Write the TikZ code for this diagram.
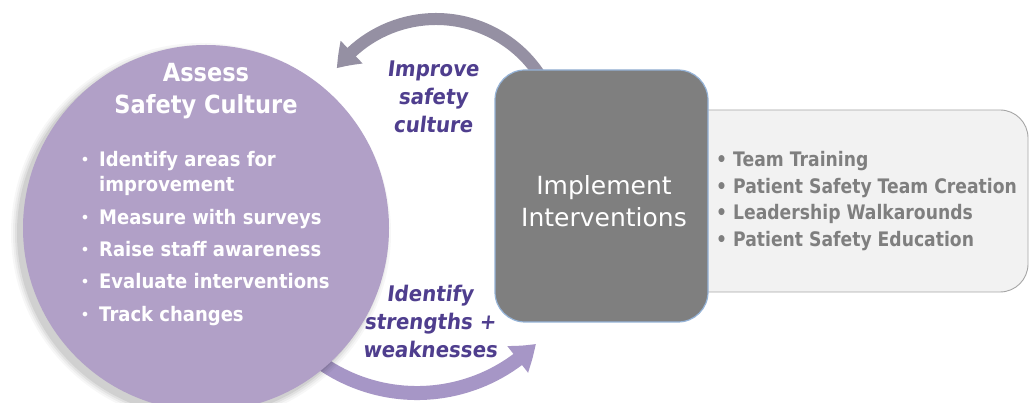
\documentclass[tikz,border=0pt]{standalone}
\usepackage{fontspec}
\setmainfont{DejaVu Sans}
\newfontfamily\semib{DejaVu Sans Bold}[FakeStretch=0.9]
\newfontfamily\listfont{DejaVu Sans Bold}[FakeStretch=0.86]
\newfontfamily\hand{DejaVu Sans Bold}[FakeSlant=0.12, FakeStretch=0.92]
\usetikzlibrary{arrows.meta,bending}
\definecolor{circfill}{HTML}{B1A0C7}
\definecolor{implfill}{HTML}{7F7F7F}
\definecolor{implborder}{HTML}{95B3D7}
\definecolor{listfill}{HTML}{F2F2F2}
\definecolor{listborder}{HTML}{A6A6A6}
\definecolor{listtext}{HTML}{7F7F7F}
\definecolor{handtext}{HTML}{4F3E8E}
\definecolor{toparrow}{HTML}{9590A3}
\definecolor{botarrow}{HTML}{A696C6}
\begin{document}
\begin{tikzpicture}[x=1pt,y=1pt,
  toparr/.style={draw=toparrow, line width=12pt, -{Triangle[width=30pt,length=22pt,bend]}, color=toparrow},
  botarr/.style={draw=botarrow, line width=14pt, -{Triangle[width=32pt,length=24pt,bend]}, color=botarrow},
  assessnode/.style={circle, fill=circfill, minimum size=366pt, inner sep=0pt},
  implbox/.style={rectangle, rounded corners=30pt, fill=implfill, draw=implborder, line width=1.2pt, minimum width=213pt, minimum height=252pt},
  listbox/.style={rectangle, rounded corners=28pt, fill=listfill, draw=listborder, line width=0.9pt, minimum width=378pt, minimum height=182pt},
  titletext/.style={text=white, font=\semib\fontsize{25}{32}\selectfont, align=center, inner sep=0pt},
  circitem/.style={text=white, font=\semib\fontsize{20}{24}\selectfont, anchor=base west, inner sep=0pt},
  circbullet/.style={text=white, font=\fontsize{16}{16}\selectfont, anchor=base, inner sep=0pt},
  impltext/.style={text=white, font=\fontsize{25}{32}\selectfont, align=center, inner sep=0pt},
  listitem/.style={text=listtext, font=\listfont\fontsize{20}{24}\selectfont, anchor=base west, inner sep=0pt},
  handlabel/.style={text=handtext, font=\hand\fontsize{21.5}{28}\selectfont, align=center, inner sep=0pt}]
\useasboundingbox (0,0) rectangle (1030,403);
\clip (0,0) rectangle (1030,403);
\fill[white] (0,0) rectangle (1030,403);
% cycle arrows
\coordinate (tA) at (543.4,322);
\draw[toparr] (tA) arc[start angle=30,end angle=143,radius=124];
\coordinate (bA) at (279.4,81.6);
\draw[botarr] (bA) arc[start angle=215,end angle=315,radius=168];
% circle shadow
\foreach \r/\o in {190/0.03,188/0.04,186/0.05,184/0.07}
  \fill[black, opacity=\o] (201,170) circle (\r);
\node[assessnode] (assess) at (206,175) {};
\node[titletext] (title) at (206,312) {Assess\\Safety Culture};
\node[circitem] (c1) at (99,236) {Identify areas for};
\node[circitem] (c1b) at (99,211) {improvement};
\node[circitem] (c2) at (99,178) {Measure with surveys};
\node[circitem] (c3) at (99,146) {Raise staff awareness};
\node[circitem] (c4) at (99,114) {Evaluate interventions};
\node[circitem] (c5) at (99,81) {Track changes};
\foreach \n/\yy in {b1/236,b2/178,b3/146,b4/114,b5/81}
  \node[circbullet] (\n) at (85,\yy+1) {•};
% boxes
\node[listbox] (list) at (839,202) {};
\node[implbox] (impl) at (601.5,207) {};
\node[impltext] (implT) at (604,201.5) {Implement\\Interventions};
\node[listitem] (r1) at (716,236) {• Team Training};
\node[listitem] (r2) at (716,209) {• Patient Safety Team Creation};
\node[listitem] (r3) at (716,183) {• Leadership Walkarounds};
\node[listitem] (r4) at (716,156) {• Patient Safety Education};
% handwritten labels
\node[handlabel] (lab1) at (433,306) {Improve\\safety\\culture};
\node[handlabel] (lab2) at (430,82) {Identify\\strengths +\\weaknesses};
\end{tikzpicture}
\end{document}
